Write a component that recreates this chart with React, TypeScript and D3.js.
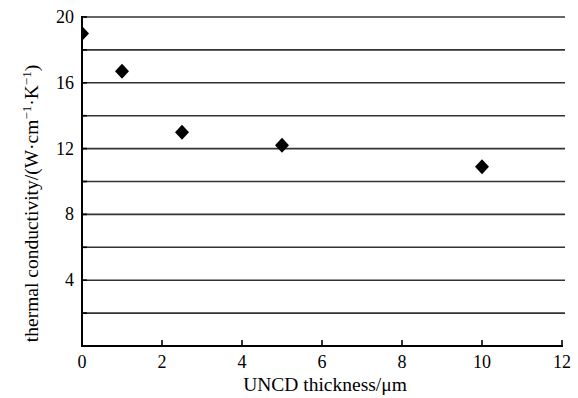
import React from "react";
import * as d3 from "d3";

const thickness = [0, 1, 2.5, 5, 10];
const conductivity = [19.0, 16.7, 13.0, 12.2, 10.9];
const xTicks = [0, 2, 4, 6, 8, 10, 12];
const yLabelTicks = [4, 8, 12, 16, 20];
const gridValues = [2, 4, 6, 8, 10, 12, 14, 16, 18, 20];

export default function App() {
  const W = 578, H = 398;
  const x = d3.scaleLinear().domain([0, 12]).range([82, 562]);
  const y = d3.scaleLinear().domain([0, 20]).range([346, 17]);
  const font = "'Liberation Serif', 'Times New Roman', serif";
  const diamond = (cx: number, cy: number) =>
    `M${cx},${cy - 7.5}L${cx + 7},${cy}L${cx},${cy + 7.5}L${cx - 7},${cy}Z`;
  return (
    <svg width={W} height={H} style={{ position: "absolute", left: 0, top: 0, background: "#fff" }}>
      <defs>
        <clipPath id="plotclip">
          <rect x={x(0)} y={0} width={x(12) - x(0) + 10} height={y(0)} />
        </clipPath>
      </defs>
      {gridValues.map((v) => (
        <line key={"g" + v} x1={x(0)} x2={565} y1={y(v)} y2={y(v)} stroke="#333" strokeWidth={1.6} />
      ))}
      {gridValues.map((v) => (
        <line key={"yt" + v} x1={x(0)} x2={x(0) + 5} y1={y(v)} y2={y(v)} stroke="#000" strokeWidth={1.6} />
      ))}
      {xTicks.map((v) => (
        <line key={"xt" + v} x1={x(v)} x2={x(v)} y1={y(0)} y2={y(0) - 6} stroke="#000" strokeWidth={1.6} />
      ))}
      <g clipPath="url(#plotclip)">
        {thickness.map((t, i) => (
          <path key={"p" + i} d={diamond(x(t), y(conductivity[i]))} fill="#000" />
        ))}
      </g>
      <line x1={x(0)} x2={x(0)} y1={y(20) - 1} y2={y(0) + 1} stroke="#000" strokeWidth={2} />
      <line x1={x(0) - 1} x2={x(12) + 1} y1={y(0)} y2={y(0)} stroke="#000" strokeWidth={2} />
      {yLabelTicks.map((v) => (
        <text key={"yl" + v} x={x(0) - 8} y={y(v)} textAnchor="end" dominantBaseline="central" fontFamily={font} fontSize={18} fill="#000">
          {v}
        </text>
      ))}
      {xTicks.map((v) => (
        <text key={"xl" + v} x={x(v)} y={y(0) + 16} textAnchor="middle" dominantBaseline="central" fontFamily={font} fontSize={18} fill="#000">
          {v}
        </text>
      ))}
      <text x={325} y={391} textAnchor="middle" fontFamily={font} fontSize={19.5} fill="#000">
        UNCD thickness/μm
      </text>
      <text transform={`translate(38,${(y(0) + y(20)) / 2 + 22}) rotate(-90)`} textAnchor="middle" fontFamily={font} fontSize={19.5} fill="#000">
        thermal conductivity/(W·cm
        <tspan dy={-7} fontSize={13}>−1</tspan>
        <tspan dy={7}>·K</tspan>
        <tspan dy={-7} fontSize={13}>−1</tspan>
        <tspan dy={7}>)</tspan>
      </text>
    </svg>
  );
}
